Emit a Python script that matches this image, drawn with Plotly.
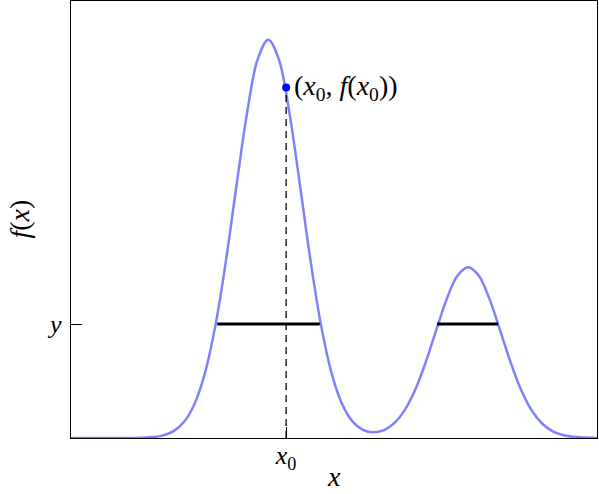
import plotly.graph_objects as go

# curve values
curve_x = [0, 0.95, 1.35, 1.55, 1.75, 1.95, 2.15, 2.35, 2.55, 2.75, 2.95, 3.15, 3.35,
           3.55, 3.75, 3.95, 4.15, 4.35, 4.55, 4.75, 4.95, 5.15, 5.35, 5.55, 5.75,
           5.95, 6.15, 6.35, 6.55, 6.75, 6.95, 7.15, 7.35, 7.55, 7.75, 7.95, 8.15,
           8.35, 8.55, 8.75, 8.95, 9.15, 9.35, 9.55, 9.75, 9.95, 10.0]
curve_y = [0, 0, 0.007, 0.021, 0.061, 0.158, 0.37, 0.784, 1.50, 2.60, 4.08, 5.80, 7.44,
           8.65, 9.09, 8.65, 7.44, 5.80, 4.08, 2.60, 1.50, 0.787, 0.379, 0.184, 0.129,
           0.180, 0.344, 0.647, 1.117, 1.752, 2.487, 3.193, 3.71, 3.90, 3.71, 3.193, 2.487,
           1.752, 1.117, 0.645, 0.337, 0.159, 0.068, 0.026, 0.009, 0.003, 0.002]

x0 = 4.09
fx0 = 8.0
level = 2.60
seg1_x = [2.78, 4.73]
seg2_x = [6.96, 8.12]

x_tick_vals = [x0]
x_tick_text = ["<i>x</i><sub>0</sub>"]
y_tick_vals = [level]
y_tick_text = ["<i>y</i>"]
x_title = "<i>x</i>"
y_title = "<i>f</i>(<i>x</i>)"
point_label = "(<i>x</i><sub>0</sub>, <i>f</i>(<i>x</i><sub>0</sub>))"

FONT = "Liberation Serif"
FS = 26
FS_BIG = 28

fig = go.Figure()
fig.add_trace(go.Scatter(x=curve_x, y=curve_y, mode="lines", line_shape="spline",
                         line=dict(color="rgb(128,128,255)", width=2.5),
                         hoverinfo="skip"))
fig.add_trace(go.Scatter(x=[x0, x0], y=[0, fx0], mode="lines",
                         line=dict(color="black", width=1.3, dash="7px,5px")))
for sx in (seg1_x, seg2_x):
    fig.add_trace(go.Scatter(x=sx, y=[level, level], mode="lines",
                             line=dict(color="black", width=3)))
fig.add_trace(go.Scatter(x=[x0], y=[fx0], mode="markers",
                         marker=dict(color="blue", size=8)))
fig.add_annotation(x=x0, y=fx0, text=point_label,
                   showarrow=False, xanchor="left", xshift=6, yanchor="middle",
                   font=dict(family=FONT, size=FS_BIG, color="black"))
fig.add_annotation(x=0.5, y=0, xref="paper", yref="paper", text=x_title,
                   showarrow=False, xanchor="center", yanchor="bottom", yshift=-56,
                   font=dict(family=FONT, size=FS_BIG, color="black"))
fig.add_annotation(x=0, y=0.5, xref="paper", yref="paper", text=y_title,
                   showarrow=False, xanchor="center", yanchor="middle", xshift=-52,
                   textangle=-90, font=dict(family=FONT, size=FS_BIG, color="black"))

fig.update_layout(
    width=599, height=494,
    margin=dict(l=71, r=2, t=1, b=56),
    plot_bgcolor="white", paper_bgcolor="white",
    showlegend=False,
    font=dict(family=FONT, size=FS, color="black"),
)
fig.update_xaxes(range=[0, 10], tickvals=x_tick_vals, ticktext=x_tick_text,
                 ticks="inside", ticklen=11, tickwidth=1.3, tickcolor="black",
                 showline=True, mirror=True, linecolor="black", linewidth=1.3,
                 showgrid=False, zeroline=False, automargin=False,
                 ticklabelstandoff=-6, tickfont=dict(family=FONT, size=FS))
fig.update_yaxes(range=[0, 437 / 43.8], tickvals=y_tick_vals, ticktext=y_tick_text,
                 ticks="inside", ticklen=11, tickwidth=1.3, tickcolor="black",
                 showline=True, mirror=True, linecolor="black", linewidth=1.3,
                 showgrid=False, zeroline=False, automargin=False,
                 ticklabelstandoff=3, tickfont=dict(family=FONT, size=FS))

fig.write_html("out.html", config={"displayModeBar": False},
               post_script="document.body.style.margin='0';document.body.style.overflow='hidden';")
